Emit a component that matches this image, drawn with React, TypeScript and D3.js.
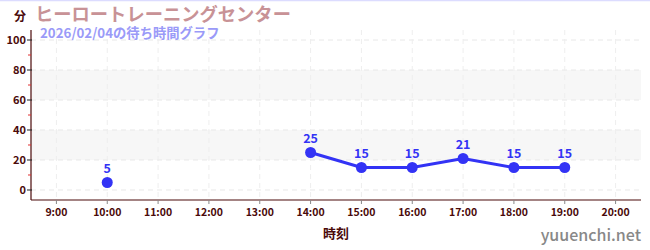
import React from "react";
import * as d3 from "d3";

const title = "ヒーロートレーニングセンター";
const subtitle = "2026/02/04の待ち時間グラフ";
const yUnit = "分";
const xTitle = "時刻";
const credit = "yuuenchi.net";

const hours = [9, 10, 11, 12, 13, 14, 15, 16, 17, 18, 19, 20];
const hourLabels = ["9:00", "10:00", "11:00", "12:00", "13:00", "14:00", "15:00", "16:00", "17:00", "18:00", "19:00", "20:00"];
const waits: (number | null)[] = [null, 5, null, null, null, 25, 15, 15, 21, 15, 15, null];
const yTicks = [0, 20, 40, 60, 80, 100];
const yMinorTicks = [10, 30, 50, 70, 90];
const bands: [number, number][] = [[20, 40], [60, 80]];

const W = 650;
const H = 250;
const L = 31;
const R = 641;
const T = 30;
const B = 200;

const maroon = "#4a0a0a";
const blue = "#3333f5";
const font = "'Noto Sans CJK JP', 'Noto Sans', sans-serif";

export default function App() {
  const x = d3.scaleLinear().domain([8.5, 20.5]).range([L, R]);
  const y = d3.scaleLinear().domain([-6.667, 106.667]).range([B, T]);
  const pts = hours.map((h, i) => ({ h, v: waits[i] }));
  const line = d3
    .line<{ h: number; v: number | null }>()
    .defined((d) => d.v !== null)
    .x((d) => x(d.h))
    .y((d) => y(d.v as number));
  const path = line(pts) || "";

  return (
    <div style={{ position: "fixed", left: 0, top: 0 }}>
      <svg width={W} height={H} style={{ display: "block", fontFamily: font }}>
        <rect x={0} y={0} width={W} height={H} fill="#fff" />
        <line x1={0} x2={W} y1={0.5} y2={0.5} stroke="#dcdcff" strokeWidth={1.5} />
        {bands.map(([a, b], i) => (
          <rect key={i} x={L} width={R - L} y={y(b)} height={y(a) - y(b)} fill="#f7f7f7" />
        ))}
        {yTicks.map((t) => (
          <line key={"gy" + t} x1={L} x2={R} y1={y(t)} y2={y(t)} stroke="#e8e8e8" strokeDasharray="5,4" />
        ))}
        {hours.map((h) => (
          <line key={"gx" + h} x1={x(h)} x2={x(h)} y1={T} y2={B} stroke="#eeeeee" strokeDasharray="5,4" />
        ))}
        {/* axes */}
        <line x1={L} x2={L} y1={T} y2={B} stroke={maroon} strokeWidth={1.2} />
        <line x1={L} x2={R} y1={B} y2={B} stroke={maroon} strokeWidth={1.2} />
        {yTicks.map((t) => (
          <g key={"ty" + t}>
            <line x1={L - 4} x2={L + 1} y1={y(t)} y2={y(t)} stroke="#222" />
            <text x={L - 5} y={y(t)} dy="0.35em" textAnchor="end" fontSize={11} fontWeight={600} fill={maroon}>
              {t}
            </text>
          </g>
        ))}
        {yMinorTicks.map((t) => (
          <line key={"my" + t} x1={L - 3} x2={L} y1={y(t)} y2={y(t)} stroke="#e03030" />
        ))}
        {hours.map((h, i) => (
          <g key={"tx" + h}>
            <line x1={x(h)} x2={x(h)} y1={B} y2={B + 4} stroke="#888" />
            <text x={x(h)} y={B + 16} textAnchor="middle" fontSize={10.5} fontWeight={600} fill={maroon}>
              {hourLabels[i]}
            </text>
          </g>
        ))}
        <text x={(L + R) / 2} y={238} textAnchor="middle" fontSize={13} fontWeight={700} fill={maroon}>
          {xTitle}
        </text>
        {/* series */}
        <path d={path} fill="none" stroke={blue} strokeWidth={3} />
        {pts
          .filter((d) => d.v !== null)
          .map((d) => (
            <g key={"p" + d.h}>
              <circle cx={x(d.h)} cy={y(d.v as number)} r={5.5} fill={blue} />
              <text x={x(d.h)} y={y(d.v as number) - 9} textAnchor="middle" fontSize={12.5} fontWeight={700} fill={blue}>
                {d.v}
              </text>
            </g>
          ))}
        {/* titles */}
        <text x={20} y={21} textAnchor="middle" fontSize={12} fontWeight={700} fill={maroon}>
          {yUnit}
        </text>
        <text x={35} y={20.5} fontSize={18.3} fontWeight={700} fill="#c89296">
          {title}
        </text>
        <text x={40} y={37.5} fontSize={13.3} fontWeight={700} fill="#9a9af8">
          {subtitle}
        </text>
        <text x={641} y={241} textAnchor="end" fontSize={16} fontWeight={500} fill="#888">
          {credit}
        </text>
      </svg>
    </div>
  );
}
